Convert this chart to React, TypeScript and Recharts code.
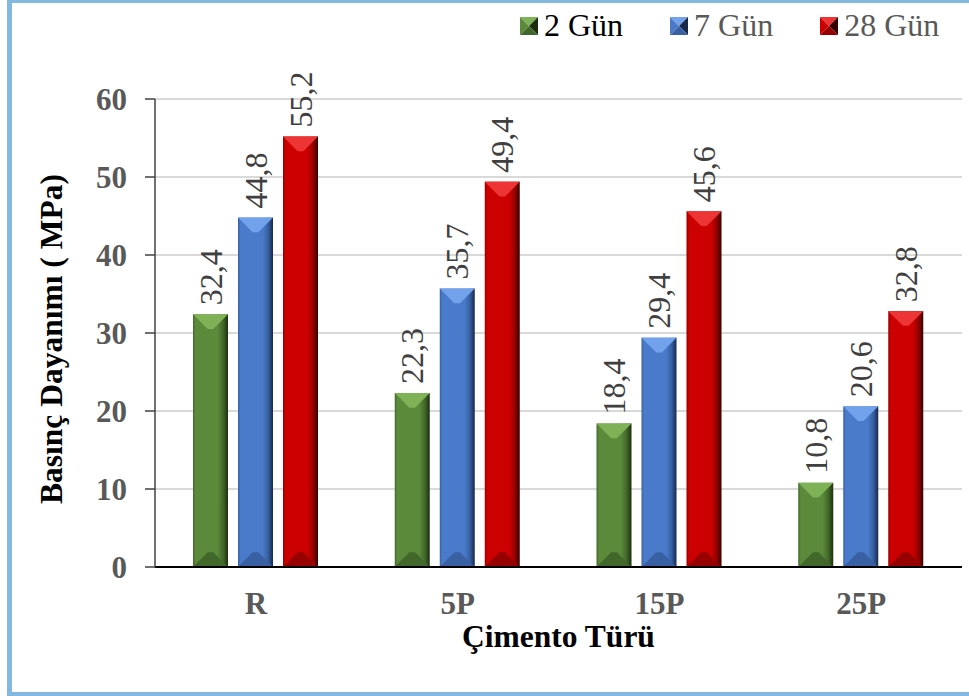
import React from 'react';
import {
  BarChart,
  Bar,
  XAxis,
  YAxis,
  CartesianGrid,
  LabelList,
} from 'recharts';

const categories = ['R', '5P', '15P', '25P'];
const gun2 = [32.4, 22.3, 18.4, 10.8];
const gun7 = [44.8, 35.7, 29.4, 20.6];
const gun28 = [55.2, 49.4, 45.6, 32.8];
const yTicks = [0, 10, 20, 30, 40, 50, 60];

const FONT = '"Liberation Serif", "Times New Roman", serif';

const series = [
  { key: 'g2', name: '2 Gün', values: gun2, main: '#5A8A3A', light: '#7FB257', bottom: '#42672A', edge: '#1C3010', text: '#000000' },
  { key: 'g7', name: '7 Gün', values: gun7, main: '#4A7BCB', light: '#72A2EC', bottom: '#3860A2', edge: '#172849', text: '#595959' },
  { key: 'g28', name: '28 Gün', values: gun28, main: '#CC0000', light: '#EE3535', bottom: '#960000', edge: '#350000', text: '#595959' },
];

const data = categories.map((name, i) => ({
  name,
  g2: gun2[i],
  g7: gun7[i],
  g28: gun28[i],
}));

const makeShape = (s: typeof series[number]) => (props: any) => {
  const { x, y, width: w, height: h } = props;
  if (!h || h <= 0) return <g />;
  const b = Math.min(w * 0.42, h / 2);
  return (
    <g>
      <rect x={x} y={y} width={w} height={h} fill={`url(#side-${s.key})`} />
      <polygon
        points={`${x},${y} ${x + w},${y} ${x + w - b},${y + b} ${x + b},${y + b}`}
        fill={s.light}
      />
      <polygon
        points={`${x},${y + h} ${x + w},${y + h} ${x + w - b},${y + h - b} ${x + b},${y + h - b}`}
        fill={s.bottom}
      />
    </g>
  );
};

const ValueLabel = (props: any) => {
  const { x, y, width, value } = props;
  const cx = x + width / 2;
  const cy = y - 9;
  return (
    <text
      x={cx}
      y={cy}
      dy="0.35em"
      transform={`rotate(-90 ${cx} ${cy})`}
      textAnchor="start"
      style={{ fontFamily: FONT, fontSize: 32, fill: '#404040' }}
    >
      {String(value).replace('.', ',')}
    </text>
  );
};

const YTitle = (props: any) => {
  const { viewBox } = props;
  const x = 62;
  const y = viewBox.y + viewBox.height / 2 + 6;
  return (
    <text
      x={x}
      y={y}
      transform={`rotate(-90 ${x} ${y})`}
      textAnchor="middle"
      style={{ fontFamily: FONT, fontWeight: 'bold', fontSize: 31.5, fill: '#000' }}
    >
      Basınç Dayanımı ( MPa)
    </text>
  );
};

const XTitle = (props: any) => {
  const { viewBox } = props;
  return (
    <text
      x={viewBox.x + viewBox.width / 2}
      y={viewBox.y + 80}
      textAnchor="middle"
      style={{ fontFamily: FONT, fontWeight: 'bold', fontSize: 31.5, fill: '#000' }}
    >
      Çimento Türü
    </text>
  );
};

const LegendIcon = ({ s }: { s: typeof series[number] }) => (
  <svg width={18} height={18} style={{ display: 'block' }}>
    <polygon points="0,0 18,0 9,9" fill={s.light} />
    <polygon points="0,0 9,9 0,18" fill={s.main} />
    <polygon points="18,0 18,18 9,9" fill={s.edge} />
    <polygon points="0,18 18,18 9,9" fill={s.bottom} />
  </svg>
);

const App = () => {
  return (
    <div style={{ position: 'absolute', left: 0, top: 0, width: 969, height: 696, background: '#fff' }}>
      <div
        style={{
          position: 'absolute',
          left: 7,
          top: 0,
          width: 962,
          height: 696,
          boxSizing: 'border-box',
          borderTop: '3px solid #83B9E0',
          borderLeft: '5px solid #83B9E0',
          borderBottom: '4px solid #83B9E0',
        }}
      />
      <div style={{ position: 'absolute', left: 0, top: 0 }}>
        <BarChart
          width={969}
          height={696}
          data={data}
          margin={{ top: 99, right: 7, left: 0, bottom: 0 }}
          barSize={35}
          barGap={10}
        >
          <defs>
            {series.map((s) => (
              <linearGradient key={s.key} id={`side-${s.key}`} x1="0" y1="0" x2="1" y2="0">
                <stop offset="0%" stopColor={s.bottom} />
                <stop offset="7%" stopColor={s.main} />
                <stop offset="70%" stopColor={s.main} />
                <stop offset="86%" stopColor={s.bottom} />
                <stop offset="100%" stopColor={s.edge} />
              </linearGradient>
            ))}
          </defs>
          <CartesianGrid vertical={false} stroke="#D9D9D9" strokeWidth={2} />
          <XAxis
            dataKey="name"
            height={129}
            tickLine={false}
            tickSize={0}
            tickMargin={25}
            axisLine={{ stroke: '#000', strokeWidth: 2 }}
            tick={{ fill: '#595959', fontFamily: FONT, fontWeight: 'bold', fontSize: 31 }}
            label={{ content: XTitle }}
          />
          <YAxis
            width={155}
            domain={[0, 60]}
            ticks={yTicks}
            interval={0}
            tickSize={10}
            tickMargin={18}
            axisLine={{ stroke: '#404040', strokeWidth: 1.5 }}
            tickLine={{ stroke: '#404040', strokeWidth: 1.5 }}
            tick={{ fill: '#595959', fontFamily: FONT, fontWeight: 'bold', fontSize: 31 }}
            label={{ content: YTitle }}
          />
          {series.map((s) => (
            <Bar
              key={s.key}
              dataKey={s.key}
              name={s.name}
              fill={s.main}
              shape={makeShape(s)}
              isAnimationActive={false}
            >
              <LabelList dataKey={s.key} content={ValueLabel} />
            </Bar>
          ))}
        </BarChart>
      </div>
      <div
        style={{
          position: 'absolute',
          left: 520,
          top: 10,
          display: 'flex',
          alignItems: 'center',
          fontFamily: FONT,
          fontSize: 32,
          lineHeight: '31px',
        }}
      >
        {series.map((s, i) => (
          <div
            key={s.key}
            style={{ display: 'flex', alignItems: 'center', marginLeft: i === 0 ? 0 : 47 }}
          >
            <LegendIcon s={s} />
            <span style={{ marginLeft: 6, color: s.text }}>{s.name}</span>
          </div>
        ))}
      </div>
    </div>
  );
};

export default App;
